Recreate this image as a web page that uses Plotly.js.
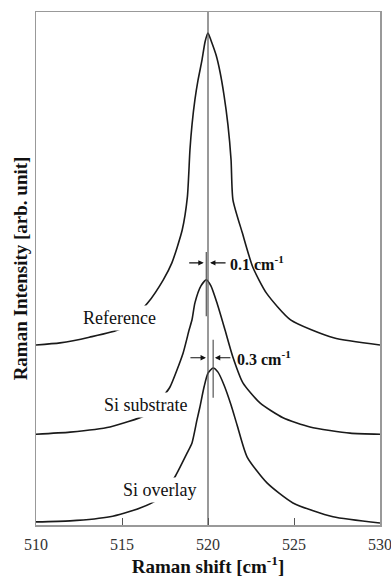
<!DOCTYPE html>
<html>
<head>
<meta charset="utf-8">
<script src="https://cdn.plot.ly/plotly-3.0.1.min.js"></script>
<style>html,body{margin:0;padding:0;background:#fff;}#chart{width:391px;height:579px;}</style>
</head>
<body>
<div id="chart"></div>
<script>
// Raman shift (cm^-1) and intensity (arb. unit, curves offset vertically)
var refShift = [510, 511.4, 513.1, 514.9, 515.7, 516.5, 517.4, 517.9, 518.5, 518.8, 518.95, 519.07, 519.24, 519.42, 519.65, 519.83, 520.0, 520.17, 520.47, 520.7, 520.93, 521.16, 521.34, 521.45, 522.0, 522.6, 523.4, 524.8, 527.3, 530];
var refInt   = [35.1, 35.5, 36.6, 38.2, 40.5, 43.3, 47.8, 51.1, 57.5, 63.9, 73.1, 78.0, 82.9, 86.7, 90.6, 94.2, 95.9, 94.5, 91.6, 88.3, 83.8, 78.0, 71.2, 63.4, 56.9, 50.3, 45.2, 40.0, 36.5, 35.1];

var subShift = [510, 511.98, 514.3, 516.34, 516.92, 517.44, 517.79, 518.55, 518.9, 519.07, 519.24, 519.59, 519.9, 520.17, 520.52, 520.99, 521.45, 522.03, 523.02, 524.36, 525.93, 528.26, 530];
var subInt   = [17.7, 18.1, 19.1, 21.4, 23.4, 25.3, 26.9, 33.5, 38.0, 40.0, 43.3, 46.6, 47.8, 46.6, 43.3, 38.0, 32.7, 27.7, 23.8, 20.9, 19.1, 17.9, 17.7];

var ovlShift = [510, 511.98, 514.3, 516.05, 517.03, 517.56, 518.08, 518.78, 519.07, 519.36, 519.53, 519.77, 520.0, 520.3, 520.58, 520.93, 521.34, 521.69, 522.27, 523.43, 524.94, 527.27, 530];
var ovlInt   = [0.6, 0.8, 1.6, 3.3, 4.9, 7.0, 9.4, 14.0, 16.0, 20.5, 23.0, 26.9, 29.6, 30.6, 29.8, 27.3, 23.4, 19.5, 13.3, 8.2, 4.3, 1.6, 0.4];

var seriesNames = ["Reference", "Si substrate", "Si overlay"];
var peakPos = [520.0, 519.9, 520.3];
var shiftLabels = ["0.1", "0.3"];
var xTicks = [510, 515, 520, 525, 530];

var serif = "Liberation Serif, Times New Roman, serif";
var lineStyle = {color: "#1a1a1a", width: 1.6, shape: "spline", smoothing: 0.6};

var traces = [
  {x: refShift, y: refInt, name: seriesNames[0]},
  {x: subShift, y: subInt, name: seriesNames[1]},
  {x: ovlShift, y: ovlInt, name: seriesNames[2]}
].map(function (t) {
  t.type = "scatter"; t.mode = "lines"; t.line = lineStyle; t.hoverinfo = "skip";
  return t;
});

var ann = [];
// curve labels
var labelPos = [[514.88, 40.4], [516.4, 23.4], [517.2, 6.8]];
seriesNames.forEach(function (n, i) {
  ann.push({x: labelPos[i][0], y: labelPos[i][1], xref: "x", yref: "y", text: n, showarrow: false,
    font: {family: serif, size: 18, color: "#111"}, bgcolor: "#fff", borderpad: 2});
});
// shift labels
var shiftY = [51.1, 32.6];
var shiftX = [521.16, 521.57];
shiftLabels.forEach(function (s, i) {
  ann.push({x: shiftX[i], y: shiftY[i], xref: "x", yref: "y", xanchor: "left", text: "<b>" + s + " cm<sup>-1</sup></b>",
    showarrow: false, font: {family: serif, size: 16, color: "#111"}});
});
// arrows: 0.1 between substrate peak and reference peak; 0.3 between reference and overlay peak
function arrow(xHead, y, ax) {
  return {x: xHead, y: y, xref: "x", yref: "y", ax: ax, ay: 0, text: "", showarrow: true,
    arrowhead: 2, arrowsize: 0.9, arrowwidth: 1.2, arrowcolor: "#111", standoff: 0};
}
ann.push(arrow(peakPos[1] - 0.15, shiftY[0], -16));
ann.push(arrow(peakPos[0] + 0.12, shiftY[0], 17));
ann.push(arrow(peakPos[1] - 0.02, shiftY[1], -17));
ann.push(arrow(peakPos[2] + 0.1, shiftY[1], 17));
// y axis title
ann.push({xref: "paper", yref: "paper", x: -0.044, y: 0.5, xanchor: "center", yanchor: "middle",
  text: "<b>Raman Intensity [arb. unit]</b>", textangle: -90,
  showarrow: false, font: {family: serif, size: 19, color: "#111"}});

var shapes = [
  {type: "line", xref: "x", yref: "paper", x0: peakPos[0], x1: peakPos[0], y0: 0, y1: 1, line: {color: "#555", width: 1.2}},
  {type: "line", xref: "x", yref: "y", x0: peakPos[1], x1: peakPos[1], y0: 40.7, y1: 53.2, line: {color: "#555", width: 1.2}},
  {type: "line", xref: "x", yref: "y", x0: peakPos[2], x1: peakPos[2], y0: 24.8, y1: 36.1, line: {color: "#555", width: 1.2}}
];

var layout = {
  width: 391, height: 579,
  margin: {l: 36, r: 11, t: 12, b: 54},
  paper_bgcolor: "#fff", plot_bgcolor: "#fff",
  showlegend: false,
  xaxis: {
    range: [510, 530], tickvals: xTicks, ticktext: xTicks.map(String),
    ticks: "inside", ticklen: 7, tickwidth: 1, tickcolor: "#555",
    showline: true, mirror: true, linecolor: "#999", linewidth: 1.5,
    showgrid: false, zeroline: false, ticklabelstandoff: 4, ticklabeloverflow: "allow",
    tickfont: {family: serif, size: 16, color: "#333"},
    title: {text: "<b>Raman shift [cm<sup>-1</sup>]</b>", font: {family: serif, size: 19, color: "#111"}, standoff: 2}
  },
  yaxis: {
    range: [0, 100], showticklabels: false, ticks: "",
    showline: true, mirror: true, linecolor: "#999", linewidth: 1.5,
    showgrid: false, zeroline: false
  },
  annotations: ann,
  shapes: shapes
};

Plotly.newPlot("chart", traces, layout, {staticPlot: true, displayModeBar: false});
</script>
</body>
</html>
